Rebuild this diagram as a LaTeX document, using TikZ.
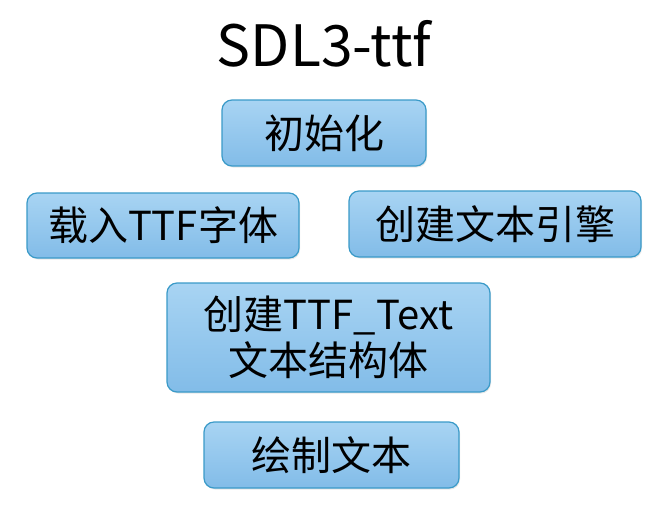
\documentclass[tikz,border=0pt]{standalone}
\usepackage{fontspec}
\setmainfont{Noto Sans CJK SC}
\usetikzlibrary{shadows}
\definecolor{boxTop}{HTML}{A8D4F3}
\definecolor{boxBot}{HTML}{82BCE8}
\definecolor{boxLine}{HTML}{3A9AC8}
\begin{document}
\begin{tikzpicture}[x=1pt, y=-1pt,
  blk/.style={rectangle, rounded corners=10pt, draw=boxLine, line width=1.2pt,
    top color=boxTop, bottom color=boxBot, inner sep=0pt, align=center,
    font=\fontsize{40}{46}\selectfont,
    drop shadow={opacity=0.18, shadow xshift=1pt, shadow yshift=-1.5pt}}]
\useasboundingbox (0,0) rectangle (660,517);
% title
\node[font=\fontsize{57}{62}\selectfont] (title) at (324,44) {SDL3-ttf};
% steps
\node[blk, minimum width=204pt, minimum height=66pt] (init) at (324,133) {初始化};
\node[blk, minimum width=272pt, minimum height=65pt] (load) at (163,225.5) {载入TTF字体};
\node[blk, minimum width=292pt, minimum height=66pt] (engine) at (495,224) {创建文本引擎};
\node[blk, minimum width=323pt, minimum height=109pt] (text) at (328.5,337.5) {创建TTF\_Text\\文本结构体};
\node[blk, minimum width=255pt, minimum height=66pt] (draw) at (331.5,455) {绘制文本};
\end{tikzpicture}
\end{document}
